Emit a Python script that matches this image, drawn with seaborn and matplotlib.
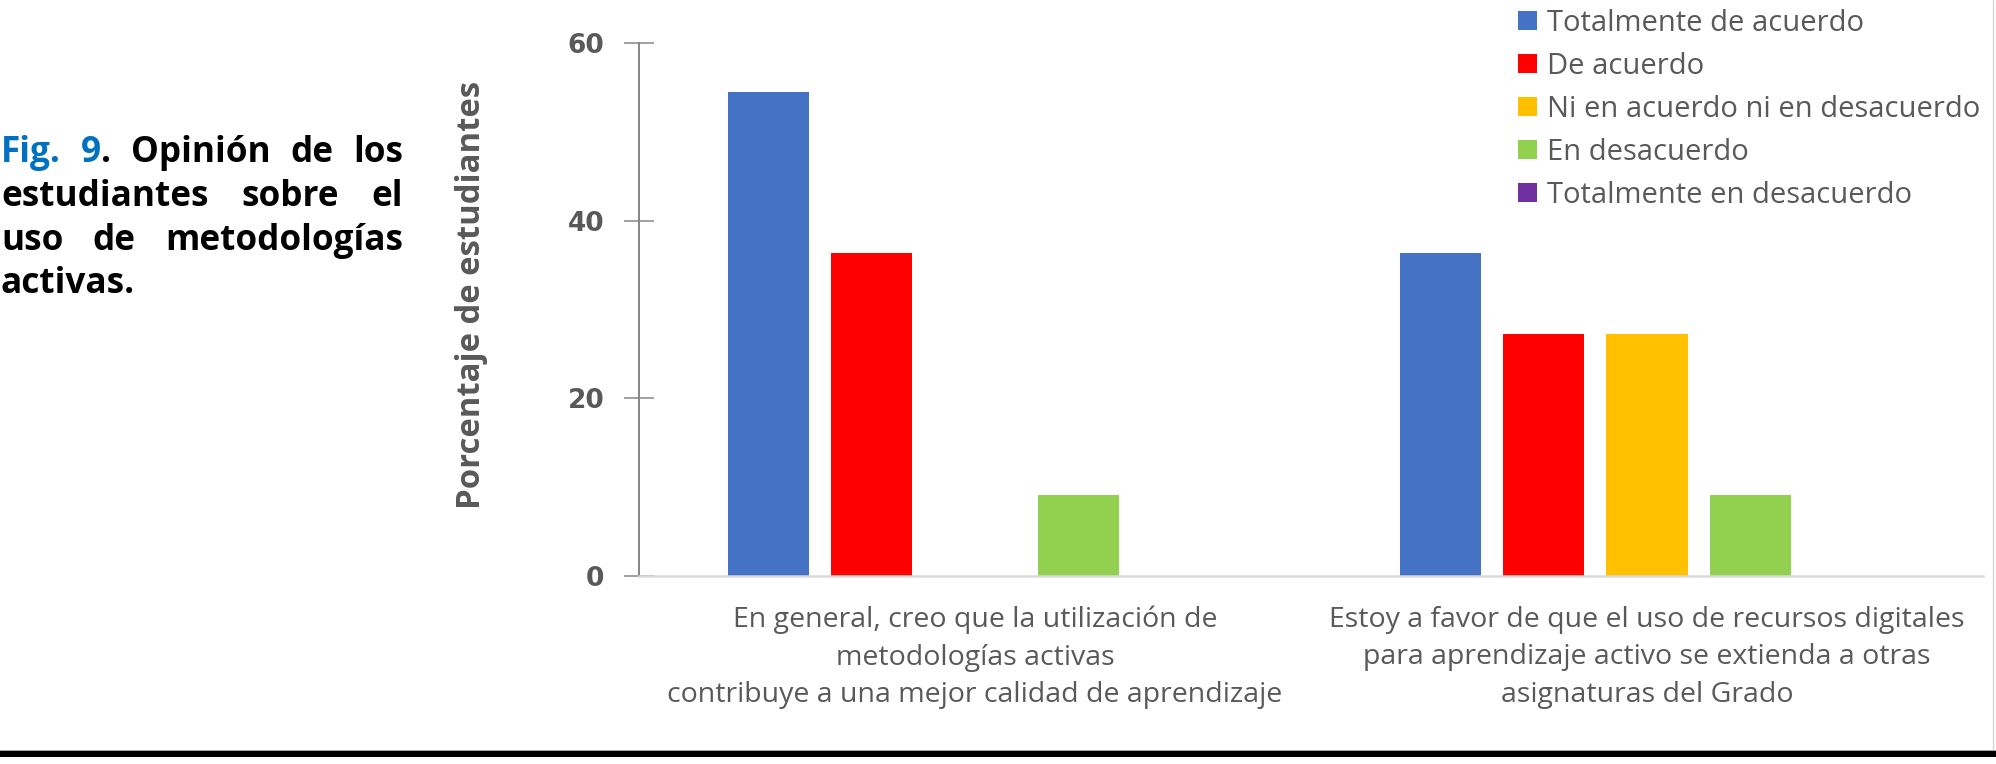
import matplotlib
matplotlib.use("Agg")
import matplotlib.pyplot as plt
import seaborn as sns
import pandas as pd
from matplotlib.patches import Rectangle
from matplotlib.lines import Line2D

# ---- data -------------------------------------------------------------
statements = [
    "En general, creo que la utilización de\nmetodologías activas\ncontribuye a una mejor calidad de aprendizaje",
    "Estoy a favor de que el uso de recursos digitales\npara aprendizaje activo se extienda a otras\nasignaturas del Grado",
]
responses = [
    "Totalmente de acuerdo",
    "De acuerdo",
    "Ni en acuerdo ni en desacuerdo",
    "En desacuerdo",
    "Totalmente en desacuerdo",
]
colors = ["#4472C4", "#FF0000", "#FFC000", "#92D050", "#7030A0"]
pct_statement1 = [54.5, 36.4, 0.0, 9.1, 0.0]
pct_statement2 = [36.4, 27.3, 27.3, 9.1, 0.0]
yticks = [0, 20, 40, 60]
ylabel = "Porcentaje de estudiantes"

caption_lines = [
    [[("Fig.", "#0070C0")], [("9", "#0070C0"), (".", "black")],
     [("Opinión", "black")], [("de", "black")], [("los", "black")]],
    [[("estudiantes", "black")], [("sobre", "black")], [("el", "black")]],
    [[("uso", "black")], [("de", "black")], [("metodologías", "black")]],
    [[("activas.", "black")]],
]

df = pd.DataFrame({
    "statement": [statements[0]] * len(responses) + [statements[1]] * len(responses),
    "response": responses * 2,
    "pct": pct_statement1 + pct_statement2,
})

# ---- figure -----------------------------------------------------------
W, H = 1996, 764
sns.set_style("white")
plt.rcParams["font.family"] = ["Open Sans", "DejaVu Sans"]

fig = plt.figure(figsize=(W / 100, H / 100), dpi=100)
ax = fig.add_axes([639 / W, 188 / H, 1344 / W, 532.7 / H])

sns.barplot(
    data=df, x="statement", y="pct", hue="response",
    order=statements, hue_order=responses,
    palette=dict(zip(responses, colors)), saturation=1,
    width=0.769, gap=0.216, linewidth=0, errorbar=None, ax=ax,
)

ax.set_xlim(-0.5, 1.5)
ax.set_ylim(0, 60)
ax.set_yticks(yticks)
ax.set_xlabel("")

for side in ("top", "right"):
    ax.spines[side].set_visible(False)
ax.spines["left"].set_color("#868686")
ax.spines["left"].set_linewidth(1.4)
ax.spines["bottom"].set_color("#D9D9D9")
ax.spines["bottom"].set_linewidth(1.8)

ax.tick_params(axis="y", left=True, direction="inout", length=21, width=1.1,
               color="#868686", pad=14.5, labelsize=19, labelcolor="#595959")
for lab in ax.get_yticklabels():
    lab.set_fontfamily("DejaVu Sans")
    lab.set_fontweight("bold")

ax.tick_params(axis="x", bottom=False, length=0, pad=21.5, labelsize=20.5,
               labelcolor="#595959")
for lab in ax.get_xticklabels():
    lab.set_linespacing(1.45)

ax.set_ylabel(ylabel, fontsize=23.7, fontweight="bold", color="#595959",
              va="center")
ax.yaxis.set_label_coords((471.5 - 639) / 1344, (576 - 295) / 532.7)

sns.move_legend(
    ax, "upper left",
    bbox_to_anchor=(1518 / W, 755 / H), bbox_transform=fig.transFigure,
    frameon=False, title=None,
    prop={"family": "Open Sans", "size": 21}, labelcolor="#595959",
    handlelength=0.65, handleheight=0.65, handletextpad=0.34,
    labelspacing=0.48, borderpad=0, borderaxespad=0,
)

# ---- justified caption on the left -----------------------------------
renderer = fig.canvas.get_renderer()
cap_font = dict(family="Open Sans", weight="bold", size=25.3)
x_left, x_right = 1.0, 403.0
baselines = [162, 206, 250, 293]

for words, base in zip(caption_lines, baselines):
    placed = []
    widths = []
    for word in words:
        pieces = []
        w_total = 0.0
        for txt, col in word:
            t = fig.text(0, 1 - base / H, txt, color=col, va="baseline",
                         ha="left", fontdict=cap_font)
            w = t.get_window_extent(renderer).width
            pieces.append((t, w))
            w_total += w
        placed.append(pieces)
        widths.append(w_total)
    if len(words) > 1:
        gap = (x_right - x_left - sum(widths)) / (len(words) - 1)
    else:
        gap = 0
    x = x_left
    for pieces, w_total in zip(placed, widths):
        xx = x
        for t, w in pieces:
            t.set_x(xx / W)
            xx += w
        x += w_total + gap

# ---- page furniture -------------------------------------------------
fig.add_artist(Line2D([1993 / W, 1993 / W], [(H - 749) / H, 1.0],
                      transform=fig.transFigure, color="#D6D6D6", lw=1))
fig.add_artist(Rectangle((0, (H - 751) / H), 1, 1.2 / H,
                         transform=fig.transFigure, color="#A6A6A6", lw=0))
fig.add_artist(Rectangle((0, (H - 757) / H), 1, 6 / H,
                         transform=fig.transFigure, color="black", lw=0))

fig.savefig("out.png", dpi=100, facecolor="white")
